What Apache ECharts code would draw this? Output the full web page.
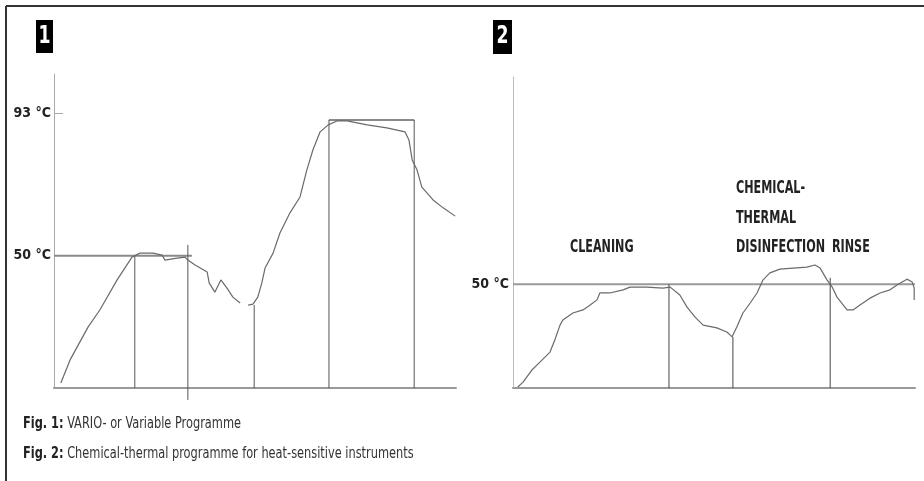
<!DOCTYPE html>
<html>
<head>
<meta charset="utf-8">
<script src="https://cdn.jsdelivr.net/npm/echarts@6/dist/echarts.min.js"></script>
<style>
html,body{margin:0;padding:0;background:#fff;}
#chart{width:924px;height:481px;}
</style>
</head>
<body>
<div id="chart"></div>
<script>
// ---- Fig. 1 : VARIO- or Variable Programme ----
const fig1Time = [1.7,4.0,8.5,11.4,15.7,19.4,21.4,24.6,26.9,27.6,30.6,32.6,33.3,35.1,38.1,38.6,40.0,41.5,43.0,44.5,46.3,47.3,48.3,49.5,50.7,51.7,52.5,54.5,56.2,58.7,61.2,62.9,64.4,66.2,68.2,70.4,72.9,77.9,82.8,87.3,88.3,89.1,90.3,91.5,94.3,96.8,99.8];
const fig1Temp = [11.5,18.5,28.5,33.6,42.7,49.6,50.8,50.8,50.2,48.7,49.3,49.6,48.7,47.2,45.1,41.8,39.0,42.7,40.3,37.5,35.7,null,35.1,35.4,37.5,41.8,46.3,50.8,56.9,63.0,67.8,76.0,82.0,87.5,89.6,90.8,90.8,89.6,88.7,87.5,85.0,79.0,76.0,70.8,66.9,64.5,62.0];
const fig1DividerTime = [20.1,33.3,49.8,68.4,89.6];
const fig1DividerTop = [50,53.3,35.1,91.1,91.1];
const fig1DividerBottom = [10,6.4,10,10,10];
const fig1SetStart = [0,68.4];
const fig1SetEnd = [34.3,89.6];
const fig1SetTemp = [50,91.1];
const fig1AxisLabels = [50,93];
const fig1AxisTicks = [93];

// ---- Fig. 2 : Chemical-thermal programme ----
const fig2Time = [1.2,2.5,4.7,6.7,9.2,10.4,11.7,12.4,14.9,17.4,19.2,20.9,21.6,24.1,27.4,29.1,33.3,37.3,39.1,41.5,43.3,45.3,47.3,50.7,53.2,54.5,55.7,57.2,59.0,60.7,62.2,63.9,66.4,69.7,73.1,75.1,76.4,78.1,79.4,80.6,83.1,84.6,86.3,88.8,91.3,93.8,95.5,98.0,99.3,99.8,99.8];
const fig2Temp = [20.3,21.7,25.2,27.5,30.4,33.9,38.2,39.7,41.7,42.6,44.0,45.5,47.5,47.5,48.4,49.2,49.2,48.9,49.2,46.9,43.4,40.5,38.2,37.4,36.2,34.8,37.7,41.7,44.6,47.5,51.3,53.3,54.4,54.7,55.0,55.6,54.7,51.3,49.2,46.3,42.6,42.6,44.0,46.0,47.5,48.4,49.8,51.5,50.7,48.9,45.5];
const fig2DividerTime = [38.8,54.7,78.9];
const fig2DividerTop = [50,34.8,51.9];
const fig2DividerBottom = [20,20,20];
const fig2SetStart = [0];
const fig2SetEnd = [100];
const fig2SetTemp = [50];
const fig2AxisLabels = [50];

const phaseLabels = ['CLEANING','CHEMICAL-','THERMAL','DISINFECTION','RINSE'];
const captions = [['Fig. 1:','VARIO- or Variable Programme'],['Fig. 2:','Chemical-thermal programme for heat-sensitive instruments']];
const badges = ['1','2'];

const COND = '"Liberation Sans Narrow","DejaVu Sans Condensed","Arial Narrow",sans-serif';

function zip(xs, ys){ return xs.map((x,i)=>[x, ys[i]]); }
function seg(name, idx, pts, color, width){
  return {type:'line', name:name, xAxisIndex:idx, yAxisIndex:idx, data:pts, showSymbol:false,
    symbol:'none', clip:false, silent:true, z:2,
    lineStyle:{color:color, width:width}};
}

const series = [];
fig1SetTemp.forEach((t,i)=>series.push(seg('set1',0,[[fig1SetStart[i],t],[fig1SetEnd[i],t]],'#8a8a8a',2)));
fig2SetTemp.forEach((t,i)=>series.push(seg('set2',1,[[fig2SetStart[i],t],[fig2SetEnd[i],t]],'#9a9a9a',2)));
fig1DividerTime.forEach((x,i)=>series.push(seg('div1',0,[[x,fig1DividerTop[i]],[x,fig1DividerBottom[i]]],'#555',1)));
fig2DividerTime.forEach((x,i)=>series.push(seg('div2',1,[[x,fig2DividerTop[i]],[x,fig2DividerBottom[i]]],'#444',1)));
series.push(Object.assign(seg('temp1',0,zip(fig1Time,fig1Temp),'#6a6a6a',1.2),{connectNulls:false,z:3}));
series.push(Object.assign(seg('temp2',1,zip(fig2Time,fig2Temp),'#6a6a6a',1.2),{z:3}));

function xAx(idx){
  return {type:'value', gridIndex:idx, min:0, max:100,
    axisLine:{show:true, onZero:false, lineStyle:{color:'#999', width:2}},
    axisTick:{show:false}, axisLabel:{show:false}, splitLine:{show:false}};
}
const labelStyle = {color:'#222', fontFamily:COND, fontWeight:'bold', fontSize:14};

function label(txt, x, y){
  return {type:'text', x:x, y:y, scaleX:0.69, style:{text:txt, fill:'#222', font:'bold 18px '+COND, textVerticalAlign:'middle'}};
}
function caption(pair, y){
  return {type:'text', x:23, y:y, scaleX:0.79, style:{text:'{b|'+pair[0]+'} '+pair[1], fill:'#333', font:'16px '+COND, textVerticalAlign:'middle',
    rich:{b:{fontWeight:'bold', fontFamily:COND, fontSize:16, fill:'#222'}}}};
}

const option = {
  animation:false,
  backgroundColor:'#fff',
  grid:[
    {left:54, top:74, width:402, height:314},
    {left:513, top:77, width:402, height:311}
  ],
  xAxis:[xAx(0), xAx(1)],
  yAxis:[
    {type:'value', gridIndex:0, min:10, max:105,
     axisLine:{show:true, onZero:false, lineStyle:{color:'#aaa', width:1}},
     axisTick:{show:true, inside:true, length:9, customValues:fig1AxisTicks, lineStyle:{color:'#aaa'}},
     axisLabel:Object.assign({show:true, margin:3, customValues:fig1AxisLabels, formatter:v=>v+' °C'}, labelStyle),
     splitLine:{show:false}},
    {type:'value', gridIndex:1, min:20, max:110,
     axisLine:{show:true, onZero:false, lineStyle:{color:'#bbb', width:1}},
     axisTick:{show:false},
     axisLabel:Object.assign({show:true, margin:4, customValues:fig2AxisLabels, formatter:v=>v+' °C'}, labelStyle),
     splitLine:{show:false}}
  ],
  series:series,
  graphic:[
    {type:'line', shape:{x1:6,y1:6,x2:924,y2:6}, style:{stroke:'#333', lineWidth:2}, silent:true},
    {type:'line', shape:{x1:6,y1:6,x2:6,y2:481}, style:{stroke:'#333', lineWidth:2}, silent:true},
    {type:'rect', shape:{x:36,y:20,width:17,height:33}, style:{fill:'#000'}},
    {type:'text', x:44.5, y:37, scaleX:0.8, style:{text:badges[0], fill:'#fff', font:'bold 24px '+COND, textAlign:'center', textVerticalAlign:'middle'}},
    {type:'rect', shape:{x:493,y:20,width:19,height:34}, style:{fill:'#000'}},
    {type:'text', x:502.5, y:37, scaleX:0.8, style:{text:badges[1], fill:'#fff', font:'bold 24px '+COND, textAlign:'center', textVerticalAlign:'middle'}},
    label(phaseLabels[0], 570, 247),
    label(phaseLabels[1], 736, 188),
    label(phaseLabels[2], 736, 218),
    label(phaseLabels[3], 736, 247),
    label(phaseLabels[4], 832, 247),
    caption(captions[0], 424),
    caption(captions[1], 454)
  ]
};
const chart = echarts.init(document.getElementById('chart'), null, {renderer:'canvas'});
chart.setOption(option);
</script>
</body>
</html>
